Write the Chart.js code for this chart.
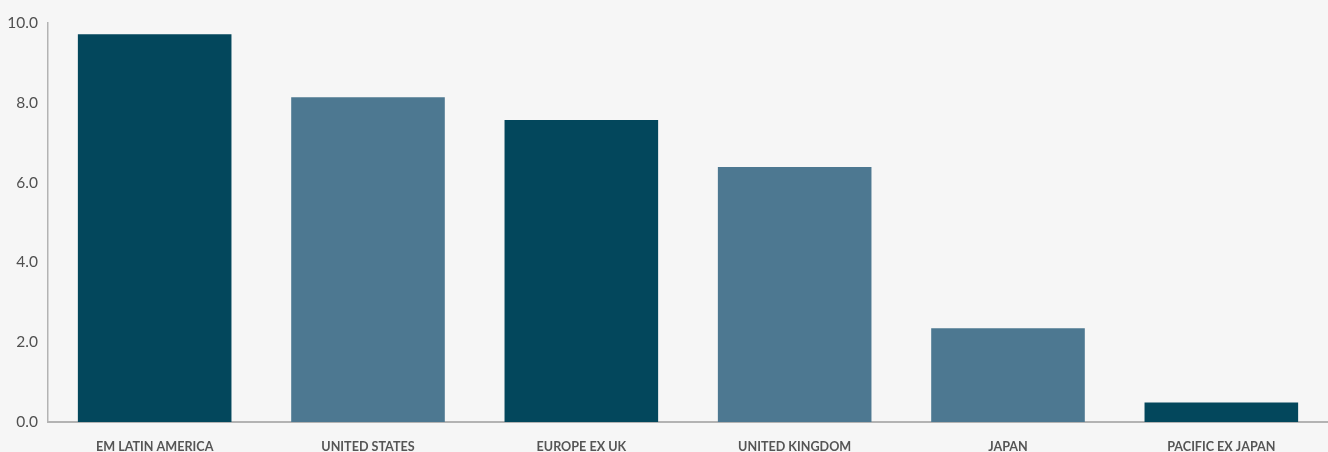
<!DOCTYPE html>
<html><head><meta charset="utf-8">
<script src="https://cdn.jsdelivr.net/npm/chart.js@4.4.1/dist/chart.umd.min.js"></script>
<style>html,body{margin:0;padding:0;background:#f6f6f6;}#wrap{width:1328px;height:452px;}</style>
</head><body><div id="wrap"><canvas id="c"></canvas></div>
<script>
const categories = ["EM LATIN AMERICA","UNITED STATES","EUROPE EX UK","UNITED KINGDOM","JAPAN","PACIFIC EX JAPAN"];
const values = [9.72, 8.14, 7.57, 6.39, 2.35, 0.49];
const barColors = ["#03475c","#4d7891","#03475c","#4d7891","#4d7891","#03475c"];
const yTicks = [0, 2, 4, 6, 8, 10];

new Chart(document.getElementById('c'), {
  type: 'bar',
  data: { labels: categories, datasets: [{ data: values, backgroundColor: barColors, categoryPercentage: 0.72, barPercentage: 1.0 }] },
  options: {
    responsive: true, maintainAspectRatio: false, animation: false,
    layout: { padding: { top: 23, right: 0, left: 0, bottom: 0 } },
    plugins: { legend: { display: false }, tooltip: { enabled: false } },
    scales: {
      x: {
        grid: { display: false },
        border: { display: true, color: '#b3b3b3', width: 2 },
        ticks: { color: '#555', font: { family: 'Lato', size: 12.6, weight: 'bold' }, padding: 9, maxRotation: 0, autoSkip: false },
        afterFit: s => { s.height = 30; }
      },
      y: {
        min: 0, max: 10,
        afterBuildTicks: s => { s.ticks = yTicks.map(v => ({ value: v })); },
        grid: { display: false },
        border: { display: true, color: '#b3b3b3', width: 1.5 },
        ticks: { color: '#505050', font: { family: 'Lato', size: 15.5 }, padding: 2, callback: v => Number(v).toFixed(1) },
        afterFit: s => { s.width = 48; }
      }
    }
  }
});
</script></body></html>
